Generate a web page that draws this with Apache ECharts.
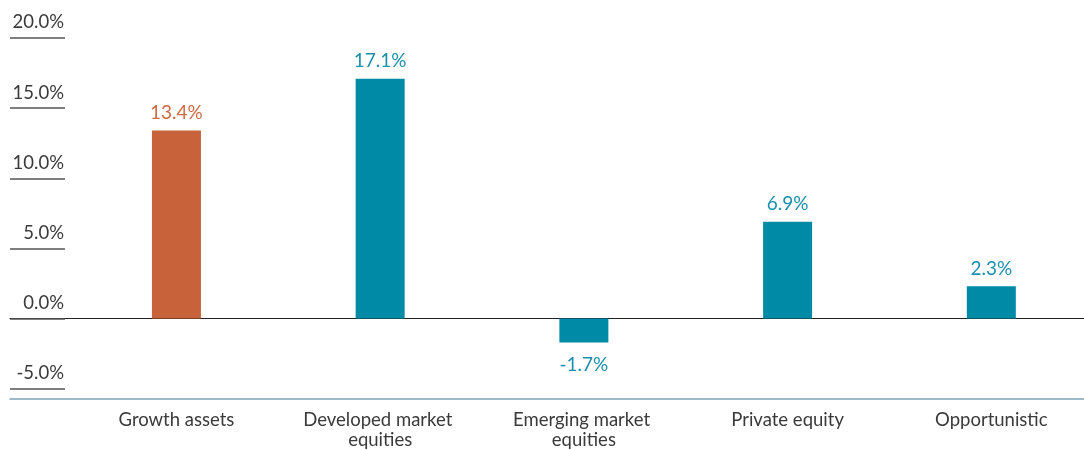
<!DOCTYPE html>
<html>
<head>
<meta charset="utf-8">
<script src="https://cdn.jsdelivr.net/npm/echarts@6/dist/echarts.min.js"></script>
<style>
html,body{margin:0;padding:0;background:#fff;}
#chart{width:1084px;height:450px;}
</style>
</head>
<body>
<div id="chart"></div>
<script>
const categories = ['Growth assets', 'Developed market equities', 'Emerging market equities', 'Private equity', 'Opportunistic'];
const returns = [13.4, 17.1, -1.7, 6.9, 2.3];
const highlight = [true, false, false, false, false];
const yTicks = [-5, 0, 5, 10, 15, 20];

const ORANGE = '#C7623A';
const TEAL = '#008AA6';
const FONT = 'Lato';

const chart = echarts.init(document.getElementById('chart'));
const data = returns.map((v, i) => ({
  value: [i, v],
  itemStyle: { color: highlight[i] ? ORANGE : TEAL },
  label: {
    color: highlight[i] ? '#D06A44' : '#1A90AE',
    position: v < 0 ? 'bottom' : 'top',
    distance: v < 0 ? 13 : 8
  }
}));

chart.setOption({
  animation: false,
  grid: { left: 10, right: 0, top: 38, bottom: 61.3, containLabel: false, outerBoundsMode: 'none' },
  xAxis: [{
    type: 'value',
    min: -0.817,
    max: 4.455,
    position: 'bottom',
    offset: 10,
    splitLine: { show: false },
    axisLine: { show: true, onZero: false, lineStyle: { color: '#7FA3B5', width: 1.5 } },
    axisTick: { show: false },
    axisLabel: {
      customValues: categories.map((c, i) => i),
      formatter: v => categories[Math.round(v)],
      fontFamily: FONT,
      fontSize: 18.5,
      color: '#3a3a3a',
      margin: 11,
      lineHeight: 20,
      width: 175,
      overflow: 'break'
    }
  }, {
    type: 'value',
    min: -0.817,
    max: 4.455,
    position: 'bottom',
    splitLine: { show: false },
    axisLine: { show: true, onZero: true, lineStyle: { color: '#222', width: 1.2 } },
    axisTick: { show: false },
    axisLabel: { show: false }
  }],
  yAxis: {
    type: 'value',
    position: 'left',
    min: yTicks[0],
    max: yTicks[yTicks.length - 1],
    interval: 5,
    splitLine: { show: false },
    axisLine: { show: false, onZero: false },
    axisTick: { show: true, inside: true, length: 55, lineStyle: { color: '#555', width: 1.5 } },
    axisLabel: {
      inside: true,
      margin: 54,
      align: 'right',
      verticalAlign: 'bottom',
      padding: [0, 0, 6, 0],
      fontFamily: FONT,
      fontSize: 18.5,
      color: '#3a3a3a',
      formatter: v => v.toFixed(1) + '%'
    }
  },
  series: [{
    type: 'bar',
    xAxisIndex: 0,
    barWidth: 49,
    data: data,
    label: {
      show: true,
      fontFamily: FONT,
      fontSize: 19,
      formatter: p => p.value[1].toFixed(1) + '%'
    }
  }]
});
</script>
</body>
</html>
